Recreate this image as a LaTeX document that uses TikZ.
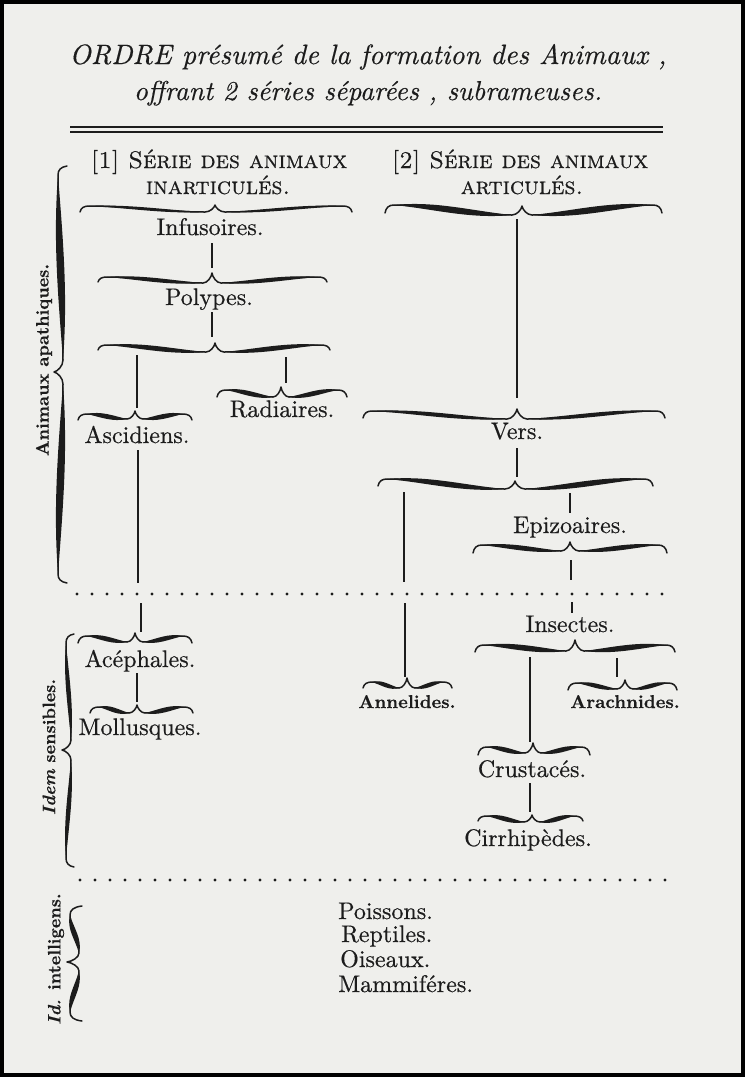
\documentclass[tikz,border=0pt]{standalone}
\usepackage{fontspec}
\newfontfamily\inkfont{lmroman10-regular}[Extension=.otf, FakeBold=0.5]
\newfontfamily\inkbf{lmroman10-bold}[Extension=.otf, FakeBold=0.3]
\newfontfamily\inkit{lmroman10-italic}[Extension=.otf, FakeBold=0.4]
\newfontfamily\inkbi{lmroman10-bolditalic}[Extension=.otf, FakeBold=0.3]
\newfontfamily\inksc{lmromancaps10-regular}[Extension=.otf, FakeBold=0.5]
\definecolor{paper}{HTML}{EFEFEC}
\definecolor{ink}{HTML}{1C1C1C}
\tikzset{
  conn/.style={draw=ink, line width=1.9pt},
  lbl/.style={text=ink, font=\inkfont\fontsize{24}{28}\selectfont, inner sep=0pt, anchor=base},
  lblb/.style={lbl, font=\inkbf\fontsize{18.5}{24}\selectfont},
  side/.style={text=ink, font=\inkbf\fontsize{18}{22}\selectfont, rotate=90, inner sep=0pt},
  hdr/.style={text=ink, inner sep=0pt, anchor=base, font=\inksc\fontsize{24}{28}\selectfont},
  ttl/.style={text=ink, inner sep=0pt, anchor=base, font=\inkit\fontsize{28}{34}\selectfont},
  dotrow/.style={draw=ink, line width=3.2pt, line cap=round, dash pattern=on 0pt off 15pt},
  rule/.style={draw=ink, line width=2.4pt},
}
% brace: x1 x2 xc yB(curl top) yE(low near cusp) yD(cusp tip) yA(end tips) t(thickness) c(cusp half width)
\newcommand\brc[9]{%
  \pgfmathsetmacro\Lh{(#3)-(#1)-9-(#9)}%
  \pgfmathsetmacro\Rh{(#2)-(#3)-9-(#9)}%
  \fill[ink] ({#1+9},{#4}) .. controls ({#1+9+0.35*\Lh},{(#4)-(#8)/2}) and ({#3-#9-0.35*\Lh},{(#5)-(#8)/2}) .. ({#3-#9},{#5})
     .. controls ({#3-#9-0.35*\Lh},{(#5)+(#8)/2}) and ({#1+9+0.35*\Lh},{(#4)+(#8)/2}) .. ({#1+9},{#4}) -- cycle;
  \fill[ink] ({#2-9},{#4}) .. controls ({#2-9-0.35*\Rh},{(#4)-(#8)/2}) and ({#3+#9+0.35*\Rh},{(#5)-(#8)/2}) .. ({#3+#9},{#5})
     .. controls ({#3+#9+0.35*\Rh},{(#5)+(#8)/2}) and ({#2-9-0.35*\Rh},{(#4)+(#8)/2}) .. ({#2-9},{#4}) -- cycle;
  \draw[ink, line width=1.5pt, line cap=round, line join=round]
     ({#1},{#7}) .. controls ({#1+1},{0.7*(#4)+0.3*(#7)}) and ({#1+4},{#4}) .. ({#1+9},{#4})
     .. controls ({#1+9+0.35*\Lh},{#4}) and ({#3-#9-0.35*\Lh},{#5}) .. ({#3-#9},{#5})
     .. controls ({#3-0.5*#9},{#5}) and ({#3-0.06*#9},{0.6*(#6)+0.4*(#5)}) .. ({#3},{#6})
     .. controls ({#3+0.06*#9},{0.6*(#6)+0.4*(#5)}) and ({#3+0.5*#9},{#5}) .. ({#3+#9},{#5})
     .. controls ({#3+#9+0.35*\Rh},{#5}) and ({#2-9-0.35*\Rh},{#4}) .. ({#2-9},{#4})
     .. controls ({#2-4},{#4}) and ({#2-1},{0.7*(#4)+0.3*(#7)}) .. ({#2},{#7});
}
\newcommand\vl[4]{\coordinate (#1a) at (#2,#3); \coordinate (#1b) at (#2,#4); \draw[conn] (#1a) -- (#1b);}
\begin{document}
\begin{tikzpicture}[x=1pt,y=-1pt]
\useasboundingbox (0,0) rectangle (745,1077);
\fill[paper] (0,0) rectangle (745,1077);
\draw[black, line width=4pt] (2,2) rectangle (743,1075);

% title
\node[ttl] (t1) at (368,64) {ORDRE présumé de la formation des Animaux ,};
\node[ttl, font=\inkit\fontsize{27.3}{34}\selectfont] (t2) at (368,100) {offrant 2 séries séparées , subrameuses.};
\coordinate (r1a) at (70,127); \coordinate (r1b) at (663,127);
\coordinate (r2a) at (70,132); \coordinate (r2b) at (663,132);
\draw[rule] (r1a) -- (r1b);
\draw[rule, line width=2pt] (r2a) -- (r2b);

% headers
\node[hdr] (h1a) at (219,168) {[1] Série des animaux};
\node[hdr] (h1b) at (218,194) {inarticulés.};
\node[hdr] (h2a) at (520,168) {[2] Série des animaux};
\node[hdr] (h2b) at (522,194) {articulés.};

% ---------- series 1
\brc{80}{352}{215}{206}{212}{205}{212}{4}{10}
\node[lbl] (infu) at (210,235) {Infusoires.};
\vl{L1}{212}{243}{268}
\brc{98}{327}{212}{277}{283}{273}{282}{5.5}{9}
\node[lbl] (poly) at (209,305) {Polypes.};
\vl{L2}{212}{312}{337}
\brc{98}{330}{215}{345}{352}{343}{350}{6.5}{9}
\vl{L3}{137}{355}{408}
\vl{L4}{286}{357}{383}
\brc{217}{347}{281}{390}{397}{387}{397}{6.5}{8}
\node[lbl] (radi) at (282,417) {Radiaires.};
\brc{78}{192}{135}{414}{419}{411}{420}{6.5}{8}
\node[lbl] (asci) at (137,443) {Ascidiens.};
\vl{L5}{138}{450}{583}
\vl{L6}{141}{603}{632}
\brc{78}{192}{135}{636}{642}{633}{643}{6.5}{8}
\node[lbl] (acep) at (140,667) {Acéphales.};
\vl{L7}{137}{673}{702}
\brc{90}{193}{137}{707}{713}{705}{713}{6.5}{8}
\node[lbl] (moll) at (140,735) {Mollusques.};

% ---------- series 2
\brc{385}{662}{522}{205}{215}{206}{213}{8.5}{10}
\vl{R1}{517}{219}{398}
\brc{363}{665}{517}{411}{419}{409}{418}{5.5}{10}
\node[lbl] (vers) at (517,439) {Vers.};
\vl{R2}{517}{448}{477}
\brc{378}{653}{515}{479}{489}{481}{486}{7.5}{10}
\vl{R3}{404}{492}{582}
\vl{R4}{405}{603}{677}
\vl{R5}{570}{493}{513}
\node[lbl] (epiz) at (570,533) {Epizoaires.};
\brc{473}{667}{570}{545}{551}{542}{553}{6.5}{9}
\vl{R6}{571}{560}{580}
\vl{R7}{572}{602}{613}
\node[lbl] (inse) at (570,632) {Insectes.};
\brc{475}{675}{575}{645}{651}{640}{652}{7.5}{9}
\vl{R8}{530}{657}{742}
\vl{R9}{617}{658}{677}
\brc{363}{452}{407}{682}{688}{678}{688}{6}{8}
\node[lblb] (anne) at (407,708) {Annelides.};
\brc{568}{677}{625}{683}{689}{680}{690}{6}{8}
\node[lblb] (arac) at (625,708) {Arachnides.};
\brc{478}{590}{533}{747}{753}{743}{755}{6.5}{8}
\node[lbl] (crus) at (532,777) {Crustacés.};
\vl{R10}{530}{783}{812}
\brc{478}{583}{532}{816}{822}{815}{821}{6.5}{8}
\node[lbl] (cirr) at (528,846) {Cirrhipèdes.};

% ---------- dotted separators
\coordinate (d1a) at (77,594); \coordinate (d1b) at (675,594);
\coordinate (d2a) at (80,880); \coordinate (d2b) at (677,880);
\draw[dotrow] (d1a) -- (d1b);
\draw[dotrow] (d2a) -- (d2b);

% ---------- vertical braces and side labels
\begin{scope}[cm={0,-1,-1,0,(0,0)}]
  \brc{166}{583}{372}{58}{63}{54}{67}{10}{12}
  \brc{634}{867}{750}{66}{71}{62}{74}{6}{10}
  \brc{906}{1021}{962}{70}{79}{67}{82}{7.5}{9}
\end{scope}
\node[side] (apat) at (44,360) {Animaux apathiques.};
\node[side] (sens) at (49,747) {{\inkbi Idem} sensibles.};
\node[side] (intl) at (56,959) {{\inkbi Id.} intelligens.};

% ---------- bottom list
\node[lbl, anchor=base west] (pois) at (338,919) {Poissons.};
\node[lbl, anchor=base west] (rept) at (341,942) {Reptiles.};
\node[lbl, anchor=base west] (oise) at (340,967) {Oiseaux.};
\node[lbl, anchor=base west] (mamm) at (338,992) {Mammiféres.};
\end{tikzpicture}
\end{document}
